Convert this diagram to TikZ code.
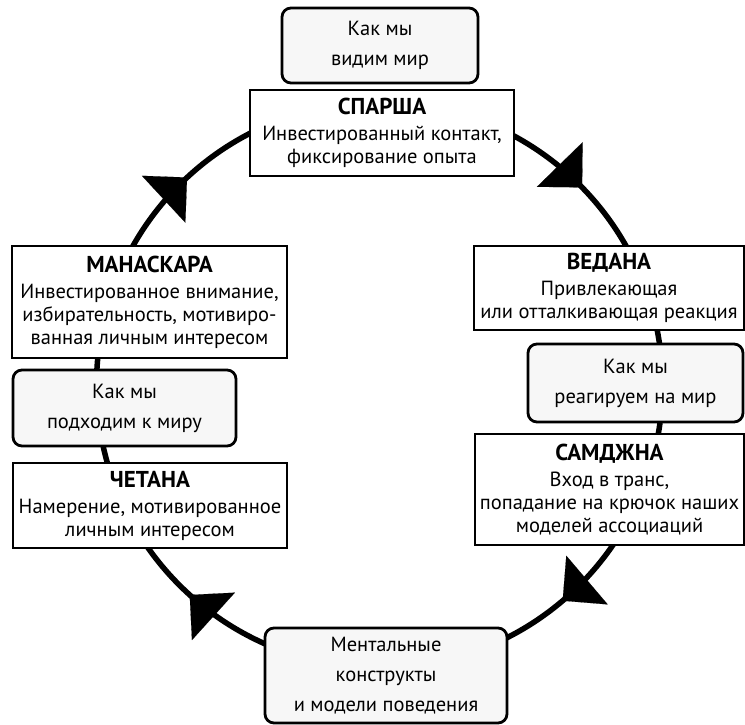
\documentclass[tikz,border=0pt]{standalone}
\usepackage{fontspec}
\setmainfont{PT Sans}
\usetikzlibrary{arrows.meta,decorations.markings}
\begin{document}
\begin{tikzpicture}[x=1pt,y=1pt,
  rectbox/.style={draw, line width=2.6pt, fill=white, rectangle, align=center, inner sep=0pt,
    font=\fontsize{20.5}{23}\selectfont},
  roundbox/.style={draw, line width=2.8pt, fill=black!3, rounded corners=9pt, align=center, inner sep=0pt,
    font=\fontsize{20.5}{30}\selectfont},
  ring/.style={line width=5.5pt},
  cyctip/.tip={Triangle[length=32pt,width=64pt,line width=0.1pt]}
]
\newcommand\boxhead[1]{{\fontsize{23}{25}\selectfont\bfseries #1}}
\useasboundingbox (0,0) rectangle (745,725);
\coordinate (O) at (379.5,340);

% the cycle
\draw[ring, postaction={decorate}, decoration={markings,
    mark=at position 0.127 with {\arrow{cyctip}},
    mark=at position 0.388 with {\arrow{cyctip}},
    mark=at position 0.617 with {\arrow{cyctip}},
    mark=at position 0.881 with {\arrow{cyctip}}}]
  (O) ++(90:283) arc[start angle=90, end angle=-270, radius=283];

% boxes
\node[roundbox, minimum width=196pt, minimum height=75pt] (see) at (380,679.5) {Как мы\\видим мир};
\node[rectbox, minimum width=264pt, minimum height=86pt] (sparsha) at (382,592)
  {\boxhead{СПАРША}\\[3pt]Инвестированный контакт,\\фиксирование опыта};
\node[rectbox, minimum width=275pt, minimum height=112pt] (manaskara) at (149.5,423)
  {\boxhead{МАНАСКАРА}\\[3pt]Инвестированное внимание,\\избирательность, мотивиро-\\ванная личным интересом};
\node[roundbox, minimum width=223pt, minimum height=76pt] (approach) at (124.5,317) {Как мы\\подходим к миру};
\node[rectbox, minimum width=274pt, minimum height=85pt] (chetana) at (150,219.5)
  {\boxhead{ЧЕТАНА}\\[3pt]Намерение, мотивированное\\личным интересом};
\node[rectbox, minimum width=270pt, minimum height=84pt] (vedana) at (609,437)
  {\boxhead{ВЕДАНА}\\[3pt]Привлекающая\\или отталкивающая реакция};
\node[roundbox, minimum width=215pt, minimum height=78pt] (react) at (635.5,342) {Как мы\\реагируем на мир};
\node[rectbox, minimum width=269pt, minimum height=111pt] (samdzhna) at (609.5,235.5)
  {\boxhead{САМДЖНА}\\[3pt]Вход в транс,\\попадание на крючок наших\\моделей ассоциаций};
\node[roundbox, minimum width=242pt, minimum height=95pt] (mental) at (386,49.5)
  {Ментальные\\конструкты\\и модели поведения};
\end{tikzpicture}
\end{document}
